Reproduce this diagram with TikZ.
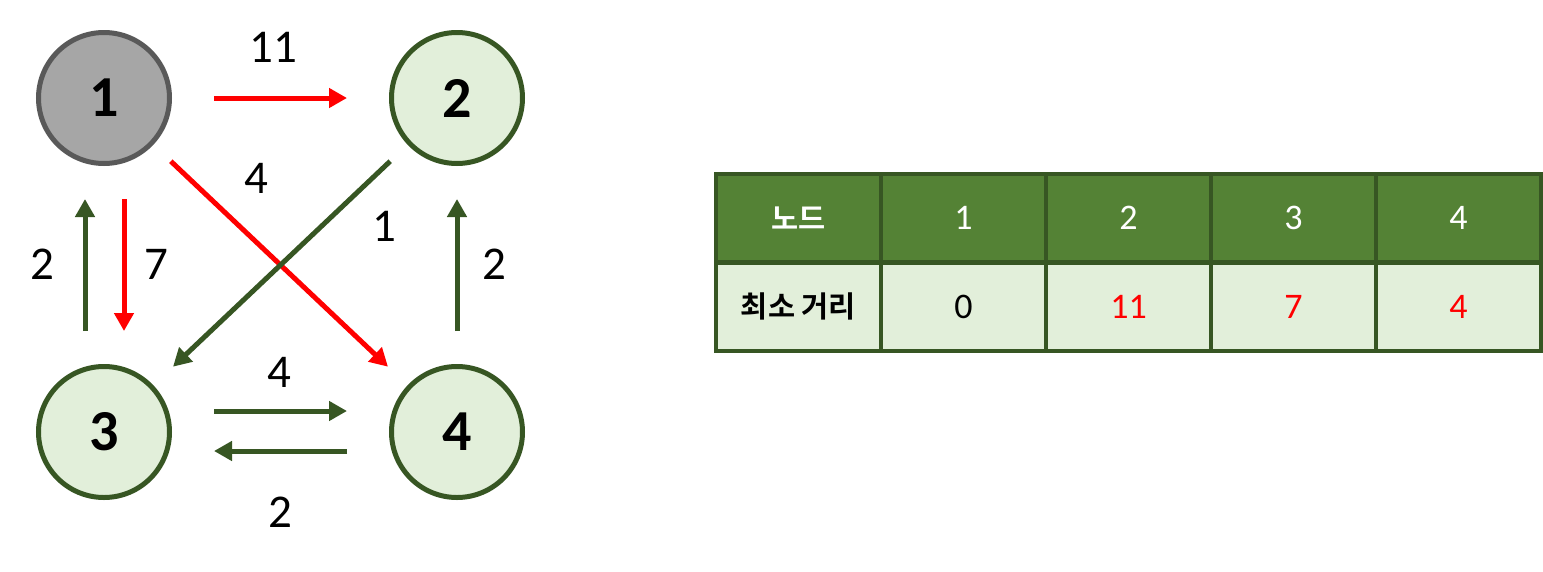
\documentclass[tikz,border=0pt]{standalone}
\usepackage{fontspec}
\setmainfont{Carlito}
\newfontfamily\kr{Noto Sans CJK KR}[BoldFont={Noto Sans CJK KR Bold}]
\usetikzlibrary{arrows.meta}
\definecolor{darkgreen}{HTML}{375623}
\definecolor{headgreen}{HTML}{548235}
\definecolor{lightgreen}{HTML}{E2EFDA}
\definecolor{nodegray}{HTML}{A6A6A6}
\definecolor{bordergray}{HTML}{595959}

\begin{document}
\begin{tikzpicture}[
        x=1pt, y=-1pt,
        vertex/.style={
            circle,
            draw=darkgreen,
            fill=lightgreen,
            line width=5pt,
            minimum size=131pt,
            inner sep=0pt,
            font=\fontsize{58}{58}\selectfont\bfseries
        },
        start/.style={vertex, draw=bordergray, fill=nodegray},
        weight/.style={inner sep=0pt, font=\fontsize{47}{47}\selectfont},
        edge/.style={
            line width=5pt,
            -{Triangle[length=18pt,width=19pt]}
        },
        greenedge/.style={edge, draw=darkgreen},
        rededge/.style={edge, draw=red},
        cell/.style={
            rectangle,
            draw=darkgreen,
            line width=4.5pt,
            minimum width=165pt,
            minimum height=88.5pt,
            inner sep=0pt,
            font=\fontsize{36}{36}\selectfont
        },
        headcell/.style={cell, fill=headgreen, text=white},
        datacell/.style={cell, fill=lightgreen}
    ]
    \useasboundingbox (0,0) rectangle (1543,571);

    % vertices
    \node[start]  (n1) at (104,98)  {1};
    \node[vertex] (n2) at (457,98)  {2};
    \node[vertex] (n3) at (104,432) {3};
    \node[vertex] (n4) at (457,432) {4};

    % edges
    \draw[rededge, shorten <=42pt, shorten >=42pt] (n1) -- (n2);
    \draw[rededge, shorten <=24pt, shorten >=27pt] (n1) -- (n4);
    \draw[greenedge, shorten <=24pt, shorten >=27pt] (n2) -- (n3);
    \draw[greenedge, shorten <=33pt, shorten >=33pt]
        ([xshift=-19pt]n3.north) -- ([xshift=-19pt]n1.south);
    \draw[rededge, shorten <=33pt, shorten >=33pt]
        ([xshift=20pt]n1.south) -- ([xshift=20pt]n3.north);
    \draw[greenedge, shorten <=33pt, shorten >=33pt] (n4) -- (n2);
    \draw[greenedge, shorten <=42pt, shorten >=42pt]
        ([yshift=21pt]n3.east) -- ([yshift=21pt]n4.west);
    \draw[greenedge, shorten <=42pt, shorten >=42pt]
        ([yshift=-19pt]n4.west) -- ([yshift=-19pt]n3.east);

    % weights
    \node[weight] (w12) at (273,47)  {11};
    \node[weight] (w14) at (256,178) {4};
    \node[weight] (w23) at (384,226) {1};
    \node[weight] (w31) at (42,264)  {2};
    \node[weight] (w13) at (156,264) {7};
    \node[weight] (w42) at (494,264) {2};
    \node[weight] (w34) at (279,372) {4};
    \node[weight] (w43) at (280,512) {2};

    % distance table
    \foreach \i/\h/\v/\c in {
            0/{\kr\bfseries\fontsize{29.5}{29.5}\selectfont 노드}/{\kr\bfseries\fontsize{29.5}{29.5}\selectfont 최소 거리}/black,
            1/1/0/black,
            2/2/11/red,
            3/3/7/red,
            4/4/4/red} {
        \node[headcell] (h\i) at (798.5+165*\i,218) {\h};
        \node[datacell, text=\c] (d\i) at (798.5+165*\i,306.5) {\v};
    }
\end{tikzpicture}
\end{document}
